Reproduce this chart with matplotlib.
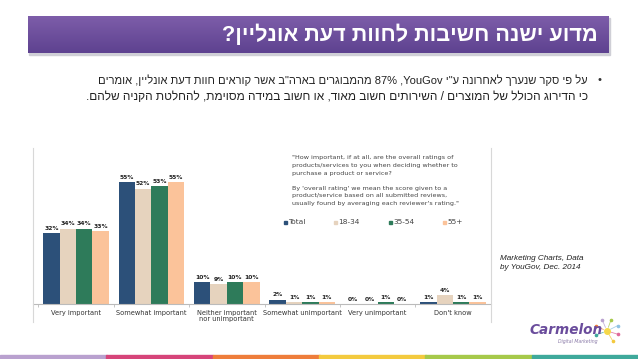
import re
import numpy as np
import matplotlib
matplotlib.use("Agg")
import matplotlib.pyplot as plt
from matplotlib.patches import Rectangle
from matplotlib.lines import Line2D

# slide texts (logical order)
title = 'מדוע ישנה חשיבות לחוות דעת אונליין?'
bullet_1 = 'על פי סקר שנערך לאחרונה ע"י YouGov, 87% מהמבוגרים בארה"ב אשר קוראים חוות דעת אונליין, אומרים'
bullet_2 = 'כי הדירוג הכולל של המוצרים / השירותים חשוב מאוד, או חשוב במידה מסוימת, להחלטת הקניה שלהם.'
source = "Marketing Charts, Data\nby YouGov, Dec. 2014"

# chart data
categories = ["Very important", "Somewhat important", "Neither important\nnor unimportant",
              "Somewhat unimportant", "Very unimportant", "Don't know"]
series = ["Total", "18-34", "35-54", "55+"]
total = [32, 55, 10, 2, 0, 1]
age_18_34 = [34, 52, 9, 1, 0, 4]
age_35_54 = [34, 53, 10, 1, 1, 1]
age_55 = [33, 55, 10, 1, 0, 1]
colors = ["#2c5079", "#e6d3be", "#2e7b5a", "#fbc39a"]
question = ['"How important, if at all, are the overall ratings of',
            'products/services to you when deciding whether to',
            'purchase a product or service?',
            '',
            "By 'overall rating' we mean the score given to a",
            'product/service based on all submitted reviews,',
            "usually found by averaging each reviewer's rating.\""]

W, H = 638, 359


def rtl(s):
    # crude visual reordering: keep latin/number runs, reverse the rest
    parts = [p for p in re.split(r'([A-Za-z0-9%]+)', s) if p]
    out = []
    for p in reversed(parts):
        out.append(p if re.fullmatch(r'[A-Za-z0-9%]+', p) else p[::-1])
    return "".join(out)


def fx(x):
    return x / W


def fy(y):
    return 1 - y / H


fig = plt.figure(figsize=(W / 100, H / 100), dpi=100)
fig.patch.set_facecolor("white")

# --- title banner with gradient ---
bx0, bx1, by0, by1 = 28, 609, 16, 53
shadow = Rectangle((fx(bx0 + 1), fy(by1 + 2)), fx(bx1 - bx0), (by1 - by0) / H,
                   transform=fig.transFigure, color="#cfcfd6", zorder=0)
fig.add_artist(shadow)
bax = fig.add_axes([fx(bx0), fy(by1), fx(bx1 - bx0), (by1 - by0) / H])
grad = np.linspace(0, 1, 50).reshape(-1, 1)
cmap = matplotlib.colors.LinearSegmentedColormap.from_list("b", ["#7d5da9", "#5e4290"])
bax.imshow(grad, aspect="auto", cmap=cmap, extent=[0, 1, 0, 1])
bax.axis("off")
fig.text(fx(598), fy(35), rtl(title), ha="right", va="center", color="white",
         fontsize=15.6, fontweight="bold", family="Liberation Sans")

# --- bullet text ---
fig.text(fx(599), fy(80), "•", ha="center", va="center", fontsize=8, color="#333333",
         family="Liberation Sans")
fig.text(fx(588), fy(80), rtl(bullet_1), ha="right", va="center", fontsize=8.0,
         color="#222222", family="Liberation Sans")
fig.text(fx(588), fy(97), rtl(bullet_2), ha="right", va="center", fontsize=8.6,
         color="#222222", family="Liberation Sans")

# --- bar chart ---
base_y, top_y = 304, 148
px_per_pct = 2.22
gx0, gstep = 76.0, 75.4
ax = fig.add_axes([fx(33), fy(base_y), fx(491 - 33), (base_y - top_y) / H])
ax.set_xlim((33 - gx0) / gstep, (491 - gx0) / gstep)
ax.set_ylim(0, (base_y - top_y) / px_per_pct)
x = np.arange(len(categories))
bw = 0.2175
data = [total, age_18_34, age_35_54, age_55]
for i, (vals, c) in enumerate(zip(data, colors)):
    pos = x + (i - 1.5) * bw
    ax.bar(pos, vals, width=bw, color=c, edgecolor="none", label=series[i])
    for p, v in zip(pos, vals):
        ax.annotate(f"{v}%", (p, v), xytext=(0, 1.5), textcoords="offset points",
                    ha="center", va="bottom", fontsize=4.3, fontweight="bold",
                    color="#222222")
for s in ["top", "left", "right"]:
    ax.spines[s].set_visible(False)
ax.spines["bottom"].set_color("#bbbbbb")
ax.spines["bottom"].set_linewidth(0.8)
ax.set_yticks([])
ax.set_xticks(x)
ax.set_xticklabels(categories, fontsize=4.8, color="#333333", linespacing=1.05)
ax.tick_params(axis="x", length=0, pad=4)
ax.set_xticks(np.arange(-0.5, len(categories)), minor=True)
ax.tick_params(axis="x", which="minor", length=2, color="#bbbbbb")
ax.patch.set_alpha(0)

# chart frame lines
for xx in (33, 491):
    fig.add_artist(Line2D([fx(xx), fx(xx)], [fy(148), fy(322)], color="#d8d8d8", lw=0.8))

# question text
for k, line in enumerate(question):
    fig.text(fx(292), fy(158 + k * 7.6), line, ha="left", va="center", fontsize=4.6,
             color="#444444")

# legend
leg_x = [285, 335, 390, 444]
for lx, name, c in zip(leg_x, series, colors):
    fig.add_artist(Rectangle((fx(lx - 1.5), fy(223.5)), fx(3), 3 / H,
                             transform=fig.transFigure, color=c))
    fig.text(fx(lx + 3), fy(222), name, ha="left", va="center", fontsize=5.3,
             color="#444444")

# source
fig.text(fx(500), fy(263), source, ha="left", va="center", fontsize=5.9, style="italic",
         color="#222222", family="Liberation Sans", linespacing=1.3)

# logo
fig.text(fx(566), fy(330), "Carmelon", ha="center", va="center", fontsize=9.8,
         fontweight="bold", style="italic", color="#6a4c9c", family="DejaVu Sans")
fig.text(fx(578), fy(342), "Digital Marketing", ha="center", va="center", fontsize=3.3,
         style="italic", color="#8a7aa8")
cx, cy = 607, 331
ray_colors = ["#f3c93e", "#e06a9a", "#8fc2e4", "#a6c94a", "#b9a1cf", "#ee7d3b", "#3fa99b"]
for k, ang in enumerate(np.linspace(-60, 200, 7)):
    r = np.deg2rad(ang)
    x1, y1 = cx + 12 * np.cos(r), cy - 12 * np.sin(r)
    fig.add_artist(Line2D([fx(cx + 4 * np.cos(r)), fx(x1)], [fy(cy - 4 * np.sin(r)), fy(y1)],
                          color=ray_colors[k], lw=0.6, alpha=0.8))
    fig.add_artist(Line2D([fx(x1)], [fy(y1)], marker="o", ms=1.6, color=ray_colors[k], lw=0))
fig.add_artist(Line2D([fx(cx)], [fy(cy)], marker="o", ms=4, color="#f5d84a", lw=0))

# bottom colour strip
strip = ["#b9a1cf", "#d6457a", "#ee7d3b", "#f3ca3e", "#a6c94a", "#3fa99b"]
seg = W / len(strip)
for k, c in enumerate(strip):
    fig.add_artist(Rectangle((fx(k * seg), 0), fx(seg + 0.5), 4.5 / H,
                             transform=fig.transFigure, color=c))

fig.savefig("out.png", dpi=100)
